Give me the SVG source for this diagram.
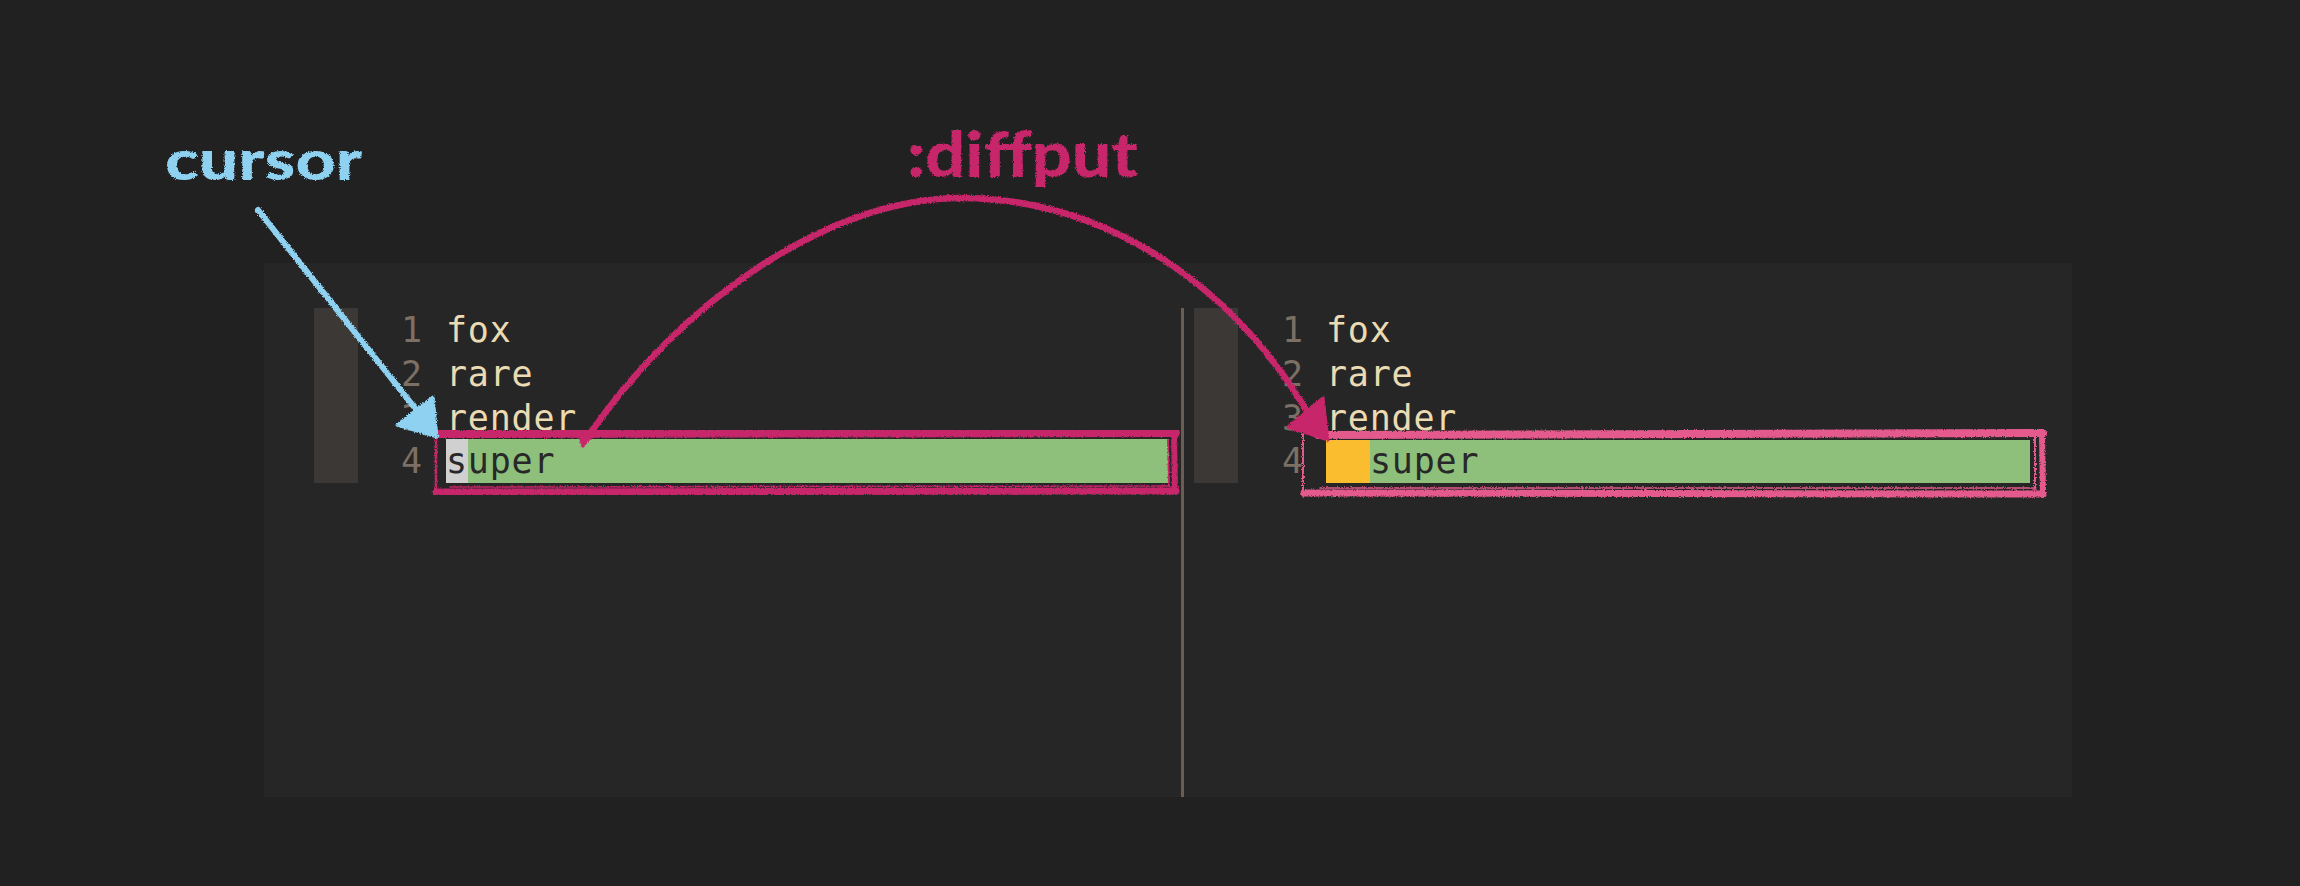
<svg xmlns="http://www.w3.org/2000/svg" width="2300" height="886" viewBox="0 0 2300 886">
<defs>
<filter id="rough" x="-5%" y="-5%" width="110%" height="110%">
<feTurbulence type="fractalNoise" baseFrequency="0.9" numOctaves="2" seed="3" result="n"/>
<feDisplacementMap in="SourceGraphic" in2="n" scale="3.5" xChannelSelector="R" yChannelSelector="G"/>
</filter>
<style>
.code{font-family:"DejaVu Sans Mono","Liberation Mono",monospace;font-size:35px;letter-spacing:0.8px;fill:#ebdbb2}
.num{font-family:"DejaVu Sans Mono","Liberation Mono",monospace;font-size:35px;fill:#7c6f64}
.dark{fill:#282828}
.gutter{fill:#3c3836}
.pinkA{stroke:#c8266a;fill:none;stroke-linecap:round;stroke-linejoin:round}
.pinkB{stroke:#e45a8c;fill:none;stroke-linecap:round;stroke-linejoin:round}
.blue{stroke:#8ed1f0;fill:none;stroke-linecap:round}
.hand{font-family:Lato,"DejaVu Sans",sans-serif;font-weight:900}
</style>
</defs>
<rect x="0" y="0" width="2300" height="886" fill="#212121"/>
<g id="editor">
<rect x="264" y="263" width="1808" height="534" fill="#262626"/>
<rect x="1181" y="308" width="3" height="489" fill="#6b5d52"/>
</g>
<g id="left-pane">
<rect class="gutter" x="314" y="308" width="44" height="175"/>
<text class="num" x="401" y="342">1</text>
<text class="num" x="401" y="386">2</text>
<text class="num" x="401" y="430">3</text>
<text class="num" x="401" y="473">4</text>
<text class="code" x="446" y="342">fox</text>
<text class="code" x="446" y="386">rare</text>
<text class="code" x="446" y="430">render</text>
<rect x="446" y="439" width="723" height="44" fill="#8ec07c"/>
<rect x="446" y="439" width="22" height="44" fill="#d0d0d0"/>
<text class="code dark" x="446" y="473">super</text>
</g>
<g id="right-pane">
<rect class="gutter" x="1194" y="308" width="44" height="175"/>
<text class="num" x="1282" y="342">1</text>
<text class="num" x="1282" y="386">2</text>
<text class="num" x="1282" y="430">3</text>
<text class="num" x="1282" y="473">4</text>
<text class="code" x="1326" y="342">fox</text>
<text class="code" x="1326" y="386">rare</text>
<text class="code" x="1326" y="430">render</text>
<rect x="1326" y="440" width="704" height="43" fill="#8ec07c"/>
<rect x="1326" y="440" width="44" height="43" fill="#fabd2f"/>
<text class="code dark" x="1370" y="473">super</text>
</g>
<g id="left-highlight-box" filter="url(#rough)">
<path class="pinkA" d="M438,434 L1176,433" stroke-width="8"/>
<path class="pinkA" d="M436,492 L1176,491" stroke-width="7"/>
<path class="pinkA" d="M1174,433 L1175,492" stroke-width="6"/>
<path class="pinkA" d="M1168,440 L1169,486" stroke-width="2"/>
<path class="pinkA" d="M436,436 L436,492" stroke-width="2.5"/>
<path class="pinkA" d="M450,487 L1170,486" stroke-width="1.5"/>
</g>
<g id="right-highlight-box" filter="url(#rough)">
<path class="pinkB" d="M1318,435 L2043,433" stroke-width="8"/>
<path class="pinkB" d="M1304,493 L2043,494" stroke-width="7"/>
<path class="pinkB" d="M2042,433 L2043,495" stroke-width="6"/>
<path class="pinkB" d="M2035,438 L2035,489" stroke-width="2"/>
<path class="pinkB" d="M1303,434 L1303,496" stroke-width="2"/>
<path class="pinkB" d="M1320,488 L2036,488" stroke-width="1.5"/>
</g>
<g id="labels" filter="url(#rough)">
<text class="hand" x="165" y="180" font-size="56" fill="#8ed1f0" textLength="197" lengthAdjust="spacingAndGlyphs">cursor</text>
<text class="hand" x="907" y="177" font-size="62" fill="#c8266a" textLength="231" lengthAdjust="spacingAndGlyphs">:diffput</text>
</g>
<g id="connectors" filter="url(#rough)">
<path class="blue" d="M258,210 L418,412" stroke-width="6"/>
<polygon points="433,397 397,425 437,437" fill="#8ed1f0" stroke="#8ed1f0" stroke-width="3" stroke-linejoin="round"/>
<path class="pinkA" d="M584,442 C680,300 830,198 961,198 C1105,198 1235,285 1312,420" stroke-width="6.5"/>
<polygon points="577,432 593,437 582,448" fill="#c8266a"/>
<polygon points="1323,398 1288,427 1328,440" fill="#c8266a" stroke="#c8266a" stroke-width="3" stroke-linejoin="round"/>
</g>
</svg>
